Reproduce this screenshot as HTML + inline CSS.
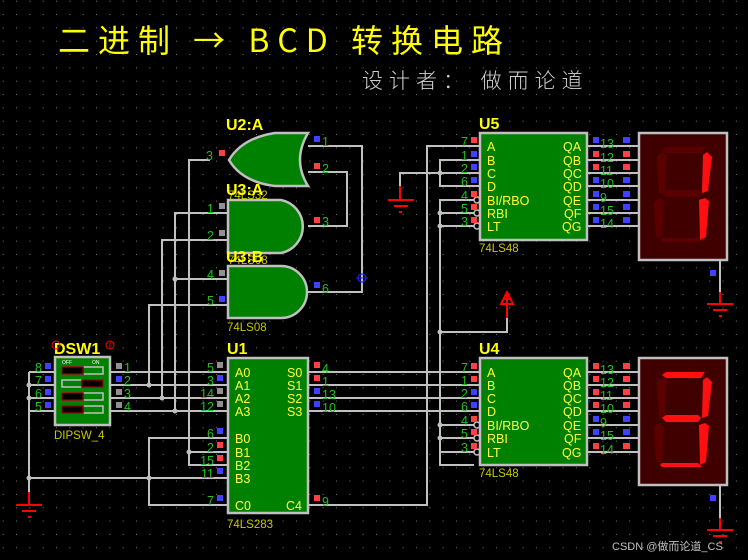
<!DOCTYPE html>
<html><head><meta charset="utf-8"><style>
html,body{margin:0;padding:0;background:#000;}
svg{display:block}
text{font-family:"Liberation Sans",sans-serif;}
.w{stroke:#c0c0c0;stroke-width:2;fill:none}
.pn{fill:#20c020;font-size:12.5px}
.pl{fill:#ffff40;font-size:12.5px}
.lb{fill:#ffff00;font-size:16px;font-weight:bold}
.sub{fill:#c8c800;font-size:11.5px}
.chip{fill:#008000;stroke:#c0c0c0;stroke-width:2.5}
.r{fill:#ff4040}.b{fill:#4040ff}.g{fill:#909090}
.gnd{stroke:#ff0000;stroke-width:2;fill:none}
.j{fill:#c0c0c0}
.on{fill:#ff1010}.off{fill:#5a0000}
</style></head><body>
<svg width="748" height="560" viewBox="0 0 748 560" xmlns="http://www.w3.org/2000/svg">
<defs><pattern id="dots" x="2.7" y="0.7" width="13.33" height="13.33" patternUnits="userSpaceOnUse"><rect x="0" y="0" width="1" height="1" fill="#7a7a7a"/></pattern></defs>
<rect width="748" height="560" fill="#000"/>
<rect width="748" height="560" fill="url(#dots)"/>

<!-- Titles -->
<text x="58" y="52" fill="#ffff00" style="font-family:'Noto Sans CJK SC',sans-serif;font-size:32px;letter-spacing:8px">二进制 → BCD 转换电路</text>
<text x="362" y="88" fill="#d0d0d0" style="font-family:'Noto Sans CJK SC',sans-serif;font-size:21px;font-weight:300;letter-spacing:6px">设计者： 做而论道</text>

<!-- wires -->
<g class="w">
<polyline points="308,146 362,146 362,292 308,292"/>
<polyline points="308,172 347,172 347,226 308,226"/>
<polyline points="210,160 189,160 189,465 228,465"/>
<line x1="189" y1="452" x2="228" y2="452"/>
<polyline points="228,213 175,213 175,411"/>
<polyline points="228,240 162,240 162,398"/>
<line x1="175" y1="279" x2="228" y2="279"/>
<polyline points="228,305 149,305 149,385"/>
<line x1="110" y1="372" x2="228" y2="372"/>
<line x1="110" y1="385" x2="228" y2="385"/>
<line x1="110" y1="398" x2="228" y2="398"/>
<line x1="110" y1="411" x2="228" y2="411"/>
<line x1="29" y1="372" x2="55" y2="372"/>
<line x1="29" y1="385" x2="55" y2="385"/>
<line x1="29" y1="398" x2="55" y2="398"/>
<line x1="29" y1="411" x2="55" y2="411"/>
<polyline points="29,372 29,492"/>
<line x1="29" y1="478" x2="228" y2="478"/>
<polyline points="228,438 149,438 149,505 228,505"/>
<line x1="308" y1="372" x2="480" y2="372"/>
<line x1="308" y1="385" x2="480" y2="385"/>
<line x1="308" y1="398" x2="480" y2="398"/>
<line x1="308" y1="411" x2="480" y2="411"/>
<polyline points="308,505 427,505 427,146 480,146"/>
<polyline points="480,160 440,160 440,186 480,186"/>
<polyline points="480,173 400,173 400,186"/>
<polyline points="474,200 440,200 440,465 474,465"/>
<line x1="440" y1="213" x2="474" y2="213"/>
<line x1="440" y1="226" x2="474" y2="226"/>
<line x1="440" y1="425" x2="474" y2="425"/>
<line x1="440" y1="438" x2="474" y2="438"/>
<line x1="440" y1="452" x2="474" y2="452"/>
<polyline points="440,332 507,332 507,318"/>
<line x1="587" y1="146" x2="639" y2="146"/><line x1="587" y1="160" x2="639" y2="160"/><line x1="587" y1="173" x2="639" y2="173"/><line x1="587" y1="186" x2="639" y2="186"/><line x1="587" y1="200" x2="639" y2="200"/><line x1="587" y1="213" x2="639" y2="213"/><line x1="587" y1="226" x2="639" y2="226"/>
<line x1="587" y1="372" x2="639" y2="372"/><line x1="587" y1="385" x2="639" y2="385"/><line x1="587" y1="398" x2="639" y2="398"/><line x1="587" y1="411" x2="639" y2="411"/><line x1="587" y1="425" x2="639" y2="425"/><line x1="587" y1="438" x2="639" y2="438"/><line x1="587" y1="452" x2="639" y2="452"/>
<line x1="720" y1="260" x2="720" y2="292"/>
<line x1="720" y1="485" x2="720" y2="518"/>
</g>
<g fill="#000" stroke="#c0c0c0" stroke-width="1.5">
<circle cx="477" cy="200" r="3"/><circle cx="477" cy="213" r="3"/><circle cx="477" cy="226" r="3"/>
<circle cx="477" cy="425" r="3"/><circle cx="477" cy="438" r="3"/><circle cx="477" cy="452" r="3"/>
</g>
<g class="j">
<circle cx="189" cy="452" r="2.5"/><circle cx="175" cy="279" r="2.5"/><circle cx="175" cy="411" r="2.5"/><circle cx="162" cy="398" r="2.5"/><circle cx="149" cy="385" r="2.5"/>
<circle cx="29" cy="385" r="2.5"/><circle cx="29" cy="398" r="2.5"/><circle cx="29" cy="478" r="2.5"/><circle cx="149" cy="478" r="2.5"/>
<circle cx="440" cy="173" r="2.5"/><circle cx="440" cy="213" r="2.5"/><circle cx="440" cy="226" r="2.5"/><circle cx="440" cy="332" r="2.5"/><circle cx="440" cy="425" r="2.5"/><circle cx="440" cy="438" r="2.5"/>
</g>
<g class="gnd">
<line x1="29" y1="492" x2="29" y2="505"/><line x1="16" y1="505" x2="42" y2="505"/><line x1="22" y1="511" x2="36" y2="511"/><line x1="28" y1="517" x2="31" y2="517"/>
<line x1="400" y1="186" x2="400" y2="200"/><line x1="388" y1="200" x2="414" y2="200"/><line x1="394" y1="206" x2="408" y2="206"/><line x1="399" y1="212" x2="402" y2="212"/>
<line x1="720" y1="292" x2="720" y2="304"/><line x1="707" y1="304" x2="733" y2="304"/><line x1="713" y1="310" x2="727" y2="310"/><line x1="719" y1="316" x2="722" y2="316"/>
<line x1="720" y1="518" x2="720" y2="530"/><line x1="707" y1="530" x2="733" y2="530"/><line x1="713" y1="536" x2="727" y2="536"/><line x1="719" y1="542" x2="722" y2="542"/>
<line x1="507" y1="318" x2="507" y2="293"/><polygon points="507,292 501,304 513,304" fill="none"/><line x1="503" y1="299" x2="511" y2="299"/>
</g>
<circle cx="362" cy="278" r="4" fill="none" stroke="#2020ff" stroke-width="1.2"/><line x1="356" y1="278" x2="368" y2="278" stroke="#2020ff"/>

<path class="chip" d="M308,133 L275,133 Q242,138 229,160 Q242,182 275,186 L308,186 Q292,160 308,133 Z"/>
<path class="chip" d="M228,200 L281,200 A27,27 0 0 1 281,253 L228,253 Z"/>
<path class="chip" d="M228,266 L281,266 A26,26 0 0 1 281,318 L228,318 Z"/>
<text class="lb" x="226" y="130">U2:A</text>
<text class="sub" x="228" y="199">74LS32</text>
<text class="lb" x="226" y="195">U3:A</text>
<text class="sub" x="228" y="264">74LS08</text>
<text class="lb" x="226" y="262">U3:B</text>
<text class="sub" x="227" y="331">74LS08</text>
<g class="pn"><text x="206" y="160">3</text><text x="322" y="146">1</text><text x="322" y="173">2</text><text x="207" y="213">1</text><text x="207" y="240">2</text><text x="322" y="226">3</text><text x="207" y="279">4</text><text x="207" y="305">5</text><text x="322" y="293">6</text></g>
<rect class="r" x="219" y="150" width="6" height="6"/><rect class="b" x="314" y="136" width="6" height="6"/><rect class="r" x="314" y="163" width="6" height="6"/>
<rect class="g" x="219" y="203" width="6" height="6"/><rect class="g" x="219" y="230" width="6" height="6"/><rect class="r" x="314" y="217" width="6" height="6"/>
<rect class="g" x="219" y="270" width="6" height="6"/><rect class="b" x="219" y="296" width="6" height="6"/><rect class="b" x="314" y="282" width="6" height="6"/>

<rect class="chip" x="55" y="357" width="55" height="68"/>
<text x="62" y="364" fill="#fff" font-size="5">OFF</text><text x="92" y="364" fill="#fff" font-size="5">ON</text>
<g stroke="#c0c0c0" stroke-width="1.5">
<rect x="62" y="367" width="41" height="7" fill="#008000"/><rect x="62" y="380" width="41" height="7" fill="#008000"/><rect x="62" y="393" width="41" height="7" fill="#008000"/><rect x="62" y="406" width="41" height="7" fill="#008000"/>
</g>
<g fill="#000" stroke="#800000" stroke-width="1.5">
<rect x="62" y="367" width="21" height="7"/><rect x="82" y="380" width="21" height="7"/><rect x="62" y="393" width="21" height="7"/><rect x="62" y="406" width="21" height="7"/>
</g>
<text class="lb" x="54" y="354">DSW1</text>
<circle cx="56" cy="345" r="4" fill="none" stroke="#ff0000"/><circle cx="110" cy="345" r="4" fill="none" stroke="#ff0000"/><line x1="110" y1="342" x2="110" y2="348" stroke="#f00"/>
<text class="sub" x="54" y="439">DIPSW_4</text>
<g class="pn"><text x="35" y="372">8</text><text x="35" y="385">7</text><text x="35" y="398">6</text><text x="35" y="411">5</text><text x="124" y="372">1</text><text x="124" y="385">2</text><text x="124" y="398">3</text><text x="124" y="411">4</text></g>
<rect class="b" x="45" y="363" width="6" height="6"/><rect class="b" x="45" y="376" width="6" height="6"/><rect class="b" x="45" y="389" width="6" height="6"/><rect class="b" x="45" y="402" width="6" height="6"/>
<rect class="g" x="116" y="363" width="6" height="6"/><rect class="b" x="116" y="376" width="6" height="6"/><rect class="g" x="116" y="389" width="6" height="6"/><rect class="g" x="116" y="402" width="6" height="6"/>

<rect class="chip" x="228" y="358" width="80" height="155"/>
<text class="lb" x="227" y="354">U1</text>
<text class="sub" x="227" y="528">74LS283</text>
<g class="pl"><text x="235" y="377">A0</text><text x="235" y="390">A1</text><text x="235" y="403">A2</text><text x="235" y="416">A3</text><text x="235" y="443">B0</text><text x="235" y="457">B1</text><text x="235" y="470">B2</text><text x="235" y="483">B3</text><text x="235" y="510">C0</text>
<text x="287" y="377">S0</text><text x="287" y="390">S1</text><text x="287" y="403">S2</text><text x="287" y="416">S3</text><text x="286" y="510">C4</text></g>
<g class="pn" text-anchor="end"><text x="214" y="372">5</text><text x="214" y="385">3</text><text x="214" y="398">14</text><text x="214" y="411">12</text><text x="214" y="438">6</text><text x="214" y="452">2</text><text x="214" y="465">15</text><text x="214" y="478">11</text><text x="214" y="505">7</text></g>
<g class="pn"><text x="322" y="373">4</text><text x="322" y="386">1</text><text x="322" y="399">13</text><text x="322" y="412">10</text><text x="322" y="506">9</text></g>
<rect class="g" x="217" y="362" width="6" height="6"/><rect class="b" x="217" y="375" width="6" height="6"/><rect class="g" x="217" y="388" width="6" height="6"/><rect class="g" x="217" y="401" width="6" height="6"/><rect class="b" x="217" y="428" width="6" height="6"/><rect class="r" x="217" y="442" width="6" height="6"/><rect class="r" x="217" y="455" width="6" height="6"/><rect class="b" x="217" y="468" width="6" height="6"/><rect class="b" x="217" y="495" width="6" height="6"/>
<rect class="r" x="314" y="362" width="6" height="6"/><rect class="r" x="314" y="375" width="6" height="6"/><rect class="b" x="314" y="388" width="6" height="6"/><rect class="b" x="314" y="401" width="6" height="6"/><rect class="r" x="314" y="495" width="6" height="6"/>

<rect class="chip" x="480" y="133" width="107" height="107"/>
<text class="lb" x="479" y="129">U5</text>
<text class="sub" x="479" y="252">74LS48</text>
<g class="pl"><text x="487" y="151">A</text><text x="487" y="165">B</text><text x="487" y="178">C</text><text x="487" y="191">D</text><text x="487" y="205">BI/RBO</text><text x="487" y="218">RBI</text><text x="487" y="231">LT</text>
<text x="563" y="151">QA</text><text x="563" y="165">QB</text><text x="563" y="178">QC</text><text x="563" y="191">QD</text><text x="563" y="205">QE</text><text x="564" y="218">QF</text><text x="562" y="231">QG</text></g>
<g class="pn" text-anchor="end"><text x="468" y="146">7</text><text x="468" y="160">1</text><text x="468" y="173">2</text><text x="468" y="186">6</text><text x="468" y="200">4</text><text x="468" y="213">5</text><text x="468" y="226">3</text></g>
<g class="pn"><text x="600" y="148">13</text><text x="600" y="162">12</text><text x="600" y="175">11</text><text x="600" y="188">10</text><text x="600" y="202">9</text><text x="600" y="215">15</text><text x="600" y="228">14</text></g>
<g>
<rect class="r" x="471" y="137" width="6" height="6"/><rect class="b" x="471" y="151" width="6" height="6"/><rect class="b" x="471" y="164" width="6" height="6"/><rect class="b" x="471" y="177" width="6" height="6"/><rect class="r" x="471" y="191" width="6" height="6"/><rect class="r" x="471" y="204" width="6" height="6"/><rect class="r" x="471" y="217" width="6" height="6"/>
<rect class="b" x="593" y="137" width="6" height="6"/><rect class="r" x="593" y="151" width="6" height="6"/><rect class="r" x="593" y="164" width="6" height="6"/><rect class="b" x="593" y="177" width="6" height="6"/><rect class="b" x="593" y="191" width="6" height="6"/><rect class="b" x="593" y="204" width="6" height="6"/><rect class="b" x="593" y="217" width="6" height="6"/>
<rect class="b" x="623" y="137" width="7" height="6"/><rect class="r" x="623" y="151" width="7" height="6"/><rect class="r" x="623" y="164" width="7" height="6"/><rect class="b" x="623" y="177" width="7" height="6"/><rect class="b" x="623" y="191" width="7" height="6"/><rect class="b" x="623" y="204" width="7" height="6"/><rect class="b" x="623" y="217" width="7" height="6"/>
<rect class="b" x="710" y="270" width="6" height="6"/>
</g>

<rect class="chip" x="480" y="358" width="107" height="107"/>
<text class="lb" x="479" y="354">U4</text>
<text class="sub" x="479" y="477">74LS48</text>
<g class="pl"><text x="487" y="377">A</text><text x="487" y="390">B</text><text x="487" y="403">C</text><text x="487" y="416">D</text><text x="487" y="430">BI/RBO</text><text x="487" y="443">RBI</text><text x="487" y="457">LT</text>
<text x="563" y="377">QA</text><text x="563" y="390">QB</text><text x="563" y="403">QC</text><text x="563" y="416">QD</text><text x="563" y="430">QE</text><text x="564" y="443">QF</text><text x="562" y="457">QG</text></g>
<g class="pn" text-anchor="end"><text x="468" y="372">7</text><text x="468" y="385">1</text><text x="468" y="398">2</text><text x="468" y="411">6</text><text x="468" y="425">4</text><text x="468" y="438">5</text><text x="468" y="452">3</text></g>
<g class="pn"><text x="600" y="374">13</text><text x="600" y="387">12</text><text x="600" y="400">11</text><text x="600" y="413">10</text><text x="600" y="427">9</text><text x="600" y="440">15</text><text x="600" y="454">14</text></g>
<g>
<rect class="r" x="471" y="363" width="6" height="6"/><rect class="r" x="471" y="376" width="6" height="6"/><rect class="b" x="471" y="389" width="6" height="6"/><rect class="b" x="471" y="402" width="6" height="6"/><rect class="r" x="471" y="416" width="6" height="6"/><rect class="r" x="471" y="429" width="6" height="6"/><rect class="r" x="471" y="443" width="6" height="6"/>
<rect class="r" x="593" y="363" width="6" height="6"/><rect class="r" x="593" y="376" width="6" height="6"/><rect class="r" x="593" y="389" width="6" height="6"/><rect class="r" x="593" y="402" width="6" height="6"/><rect class="b" x="593" y="416" width="6" height="6"/><rect class="b" x="593" y="429" width="6" height="6"/><rect class="r" x="593" y="443" width="6" height="6"/>
<rect class="r" x="623" y="363" width="7" height="6"/><rect class="r" x="623" y="376" width="7" height="6"/><rect class="r" x="623" y="389" width="7" height="6"/><rect class="r" x="623" y="402" width="7" height="6"/><rect class="b" x="623" y="416" width="7" height="6"/><rect class="b" x="623" y="429" width="7" height="6"/><rect class="r" x="623" y="443" width="7" height="6"/>
<rect class="b" x="710" y="495" width="6" height="6"/>
</g>

<rect x="639" y="133" width="88" height="127" fill="#400000" stroke="#c0c0c0" stroke-width="2.5"/>
<rect x="639" y="358" width="88" height="127" fill="#400000" stroke="#c0c0c0" stroke-width="2.5"/>
<g>
<polygon class="off" points="666,147 705,147 701,153 666,153 662,150"/>
<polygon class="on" points="707,152 712,157 708,191 702,193 703,155"/>
<polygon class="on" points="705,198 709,201 706,237 700,240 699,200"/>
<polygon class="off" points="662,238 698,238 702,242 662,242"/>
<polygon class="off" points="654,202 660,198 664,202 662,236 656,238"/>
<polygon class="off" points="657,156 663,152 667,156 665,192 659,194"/>
<polygon class="off" points="662,193 666,190 698,190 701,193 698,197 666,197"/>
</g>
<g>
<polygon class="on" points="666,372 705,372 701,378 666,378 662,375"/>
<polygon class="on" points="707,377 712,382 708,416 702,418 703,380"/>
<polygon class="on" points="705,423 709,426 706,462 700,465 699,425"/>
<polygon class="on" points="662,463 698,463 702,467 662,467 660,465"/>
<polygon class="off" points="654,427 660,423 664,427 662,461 656,463"/>
<polygon class="off" points="657,381 663,377 667,381 665,417 659,419"/>
<polygon class="on" points="662,418 666,415 698,415 701,418 698,422 666,422"/>
</g>

<text x="612" y="550" fill="#c0c0c0" style="font-family:'Liberation Sans','Noto Sans CJK SC',sans-serif;font-size:11px">CSDN @做而论道_CS</text>
</svg>
</body></html>
